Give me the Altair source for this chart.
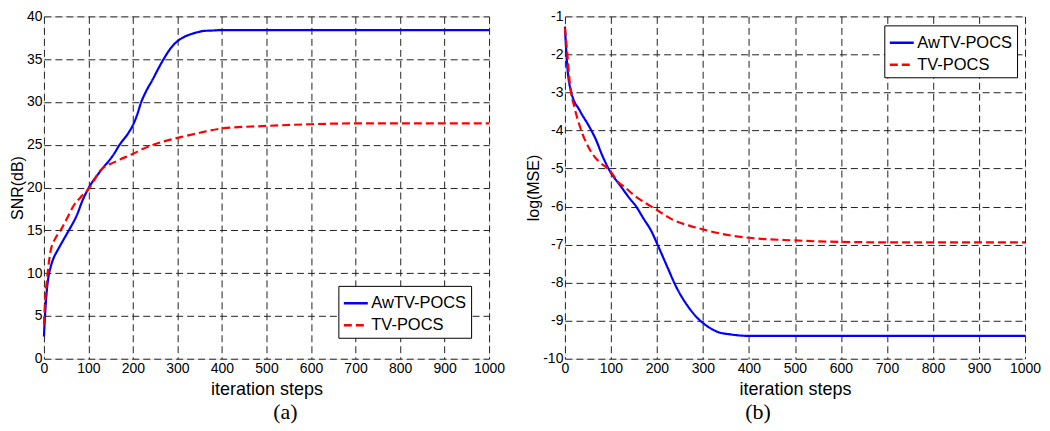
import altair as alt
import pandas as pd

methods = ["AwTV-POCS", "TV-POCS"]
x_ticks = list(range(0, 1001, 100))

# Panel (a): SNR(dB)
a_aw_steps = [0, 3, 6, 10, 15, 22, 30, 45, 56, 75, 86, 100, 125, 157, 170, 190, 200, 210, 218, 230, 244, 257, 270, 285, 300, 315, 329, 345, 359, 380, 400, 500, 600, 700, 800, 900, 1000]
a_aw_snr = [2.6, 5.5, 7.7, 9.5, 10.7, 11.8, 12.6, 14.0, 15.0, 16.9, 18.4, 19.9, 21.8, 23.9, 25.0, 26.4, 27.3, 28.6, 29.9, 31.3, 32.6, 33.9, 35.1, 36.3, 37.1, 37.6, 37.9, 38.15, 38.3, 38.35, 38.4, 38.4, 38.4, 38.4, 38.4, 38.4, 38.4]
a_tv_steps = [0, 3, 7.5, 15, 25, 37.5, 50, 67, 85, 100, 127, 160, 198, 235, 270, 300, 350, 400, 500, 600, 700, 800, 900, 1000]
a_tv_snr = [4.0, 7.0, 9.6, 12.6, 14.0, 15.0, 16.2, 17.9, 19.0, 19.8, 22.0, 23.0, 23.9, 24.8, 25.4, 25.8, 26.4, 26.9, 27.2, 27.4, 27.5, 27.5, 27.5, 27.5]

# Panel (b): log(MSE)
b_aw_steps = [0, 5, 14, 32, 53, 67, 81, 96, 121, 145, 152, 170, 188, 202, 223, 241, 266, 294, 310, 333, 360, 400, 500, 600, 700, 800, 900, 1000]
b_aw_mse = [-1.27, -2.29, -3.0, -3.47, -3.9, -4.23, -4.65, -5.03, -5.46, -5.85, -5.95, -6.3, -6.65, -7.02, -7.6, -8.09, -8.6, -9.0, -9.15, -9.3, -9.36, -9.4, -9.4, -9.4, -9.4, -9.4, -9.4, -9.4]
b_tv_steps = [0, 5, 11, 21, 35, 53, 74, 96, 117, 131, 152, 177, 200, 235, 270, 300, 346, 400, 500, 600, 700, 800, 900, 1000]
b_tv_mse = [-1.3, -1.95, -2.8, -3.4, -3.98, -4.48, -4.82, -5.03, -5.37, -5.5, -5.72, -5.92, -6.09, -6.35, -6.5, -6.6, -6.73, -6.82, -6.89, -6.93, -6.94, -6.94, -6.94, -6.94]


def frame(s1, v1, s2, v2):
    return pd.DataFrame({
        "step": list(s1) + list(s2),
        "value": list(v1) + list(v2),
        "method": [methods[0]] * len(s1) + [methods[1]] * len(s2),
    })


GRID = dict(grid=True, gridDash=[7, 4], gridColor="#222222", gridWidth=1, gridOpacity=1,
            domain=False, ticks=False, labelColor="black", titleColor="black",
            titleFontWeight="normal", labelOverlap=False, labelFlush=False,
            labelExpr="'' + datum.value")


def panel(df, ytitle, ydomain, yvalues, width, lx, ly, caption, cdx):
    leg = alt.Legend(title=None, orient="none", legendX=lx, legendY=ly,
                     fillColor="white", strokeColor="black", padding=4,
                     symbolType="stroke", symbolSize=576, symbolStrokeWidth=2.5,
                     labelFont="Liberation Sans", labelFontSize=16.5, labelColor="black",
                     rowPadding=0, labelOffset=2, cornerRadius=0)
    return alt.Chart(df).mark_line(strokeWidth=2.2, interpolate="monotone").encode(
        x=alt.X("step:Q", scale=alt.Scale(domain=[0, 1000], nice=False),
                axis=alt.Axis(values=x_ticks, title="iteration steps",
                              labelFont="Liberation Sans", labelFontSize=14, labelPadding=3,
                              titleFont="Liberation Sans", titleFontSize=18, titlePadding=5,
                              **GRID)),
        y=alt.Y("value:Q", scale=alt.Scale(domain=ydomain, nice=False, zero=False),
                axis=alt.Axis(values=yvalues, title=ytitle, labelFont="Liberation Sans",
                              labelFontSize=14, labelPadding=2, titleFont="Liberation Sans",
                              titleFontSize=16, titlePadding=1, **GRID)),
        color=alt.Color("method:N", scale=alt.Scale(domain=methods, range=["#0000FF", "#FF0000"]), legend=leg),
        strokeDash=alt.StrokeDash("method:N", scale=alt.Scale(domain=methods, range=[[1, 0], [8, 4]]), legend=leg),
        order=alt.Order("step:Q"),
    ).properties(
        width=width, height=343,
        title=alt.TitleParams(caption, orient="bottom", anchor="middle", frame="group",
                              font="Liberation Serif", fontSize=22, fontWeight="normal",
                              color="black", offset=3, dx=cdx),
    )


left = panel(frame(a_aw_steps, a_aw_snr, a_tv_steps, a_tv_snr), "SNR(dB)", [0, 40],
             list(range(0, 41, 5)), 446, 295, 270, "(a)", 19)
right = panel(frame(b_aw_steps, b_aw_mse, b_tv_steps, b_tv_mse), "log(MSE)", [-10, -1],
              list(range(-10, 0)), 461, 320, 9, "(b)", -37)

chart = alt.hconcat(left, right, spacing=19).resolve_scale(
    color="independent", strokeDash="independent"
).resolve_legend(
    color="independent", strokeDash="independent"
).properties(
    padding={"left": 0, "top": 0, "right": 0, "bottom": 0}
).configure_view(stroke="black", strokeWidth=1).configure(background="white")

chart.save("out.html", embed_options={"renderer": "svg", "actions": False})
